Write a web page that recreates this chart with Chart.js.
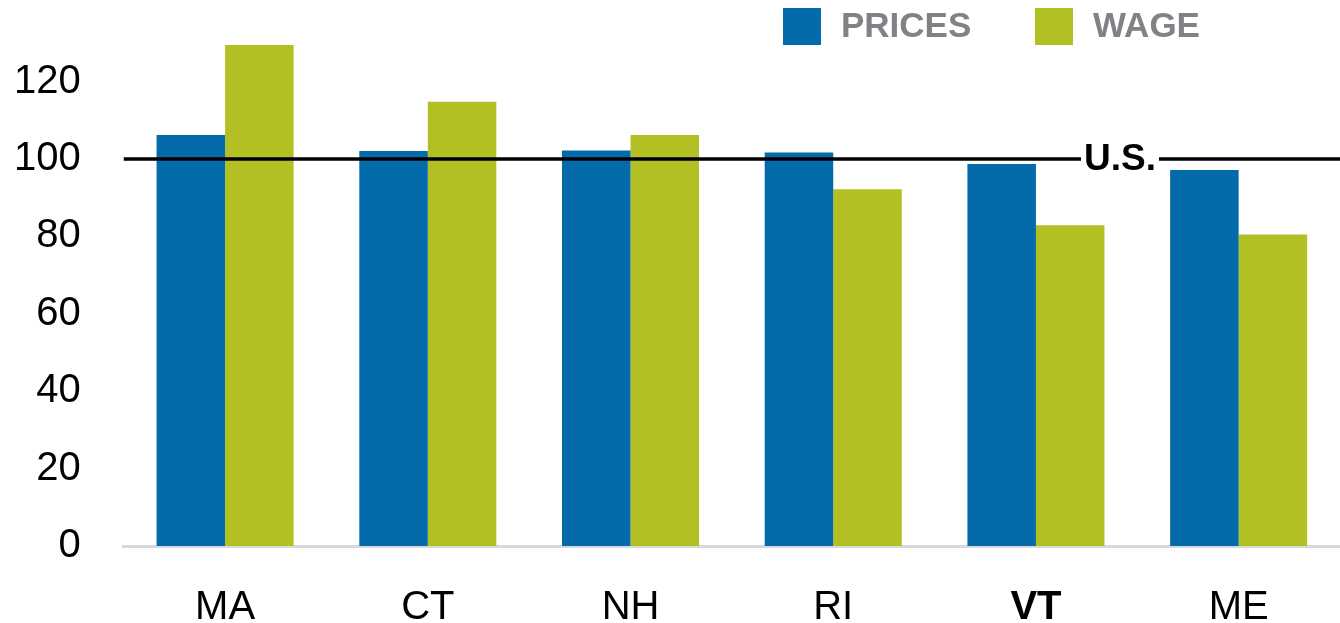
<!DOCTYPE html>
<html>
<head>
<meta charset="utf-8">
<script src="https://cdn.jsdelivr.net/npm/chart.js@4"></script>
<style>
  html, body { margin: 0; padding: 0; background: #fff; }
  #wrap { width: 1340px; height: 623px; position: relative; }
</style>
</head>
<body>
<div id="wrap"><canvas id="myChart"></canvas></div>
<script>
const states = ['MA', 'CT', 'NH', 'RI', 'VT', 'ME'];
const prices = [106.2, 102.1, 102.2, 101.7, 98.7, 97.2];
const wage = [129.5, 114.8, 106.2, 92.2, 82.9, 80.5];
const yTicks = [0, 20, 40, 60, 80, 100, 120];
const usLevel = 100;
const usLabel = 'U.S.';

const FONT = "'Liberation Sans', Arial, sans-serif";

// reference line at U.S. = 100 with its label cut into the line
const usLine = {
  id: 'usLine',
  afterDatasetsDraw(chart) {
    const { ctx, chartArea } = chart;
    const y = chart.scales.y.getPixelForValue(usLevel);
    ctx.save();
    ctx.font = 'bold 37px ' + FONT;
    const tw = ctx.measureText(usLabel).width;
    const cx = 1120;
    ctx.strokeStyle = '#000';
    ctx.lineWidth = 3.5;
    ctx.beginPath();
    ctx.moveTo(chartArea.left, y);
    ctx.lineTo(cx - tw / 2 - 3, y);
    ctx.moveTo(cx + tw / 2 + 3, y);
    ctx.lineTo(chartArea.right, y);
    ctx.stroke();
    ctx.fillStyle = '#000';
    ctx.textAlign = 'center';
    ctx.textBaseline = 'middle';
    ctx.fillText(usLabel, cx, y + 1);
    ctx.restore();
  }
};

// legend at top right, square swatches + grey bold caps
const topLegend = {
  id: 'topLegend',
  afterDraw(chart) {
    const { ctx } = chart;
    const spots = [783, 1035];
    ctx.save();
    ctx.font = 'bold 35px ' + FONT;
    ctx.textBaseline = 'middle';
    ctx.textAlign = 'left';
    chart.data.datasets.forEach((ds, i) => {
      const x = spots[i];
      ctx.fillStyle = ds.backgroundColor;
      ctx.fillRect(x, 8, 38, 37);
      ctx.fillStyle = '#808285';
      ctx.fillText(ds.label, x + 58, 27);
    });
    ctx.restore();
  }
};

const ctx = document.getElementById('myChart').getContext('2d');

new Chart(ctx, {
  type: 'bar',
  data: {
    labels: states,
    datasets: [
      {
        label: 'PRICES',
        data: prices,
        backgroundColor: '#036BAA',
        categoryPercentage: 0.676,
        barPercentage: 1.0
      },
      {
        label: 'WAGE',
        data: wage,
        backgroundColor: '#B2C024',
        categoryPercentage: 0.676,
        barPercentage: 1.0
      }
    ]
  },
  options: {
    responsive: true,
    maintainAspectRatio: false,
    animation: false,
    layout: {
      padding: { top: 43, left: -29, right: 0, bottom: -47 }
    },
    plugins: {
      legend: { display: false },
      tooltip: { enabled: false }
    },
    scales: {
      x: {
        grid: { display: false, drawTicks: false },
        border: { display: true, color: '#D9D9D9', width: 3 },
        ticks: {
          color: '#000',
          padding: 43,
          font: (c) => ({
            family: FONT,
            size: 40,
            lineHeight: 0.95,
            weight: c.index === 4 ? 'bold' : 'normal'
          })
        }
      },
      y: {
        min: 0,
        max: 130,
        afterBuildTicks: (axis) => {
          axis.ticks = yTicks.map(v => ({ value: v }));
        },
        afterFit: (axis) => {
          // keep only half a label of room above/below the axis
          axis.paddingTop = 24;
          axis.paddingBottom = 24;
        },
        grid: { display: false, drawTicks: false },
        border: { display: false },
        ticks: {
          color: '#000',
          padding: 43,
          font: { family: FONT, size: 40 }
        }
      }
    }
  },
  plugins: [usLine, topLegend]
});
</script>
</body>
</html>
